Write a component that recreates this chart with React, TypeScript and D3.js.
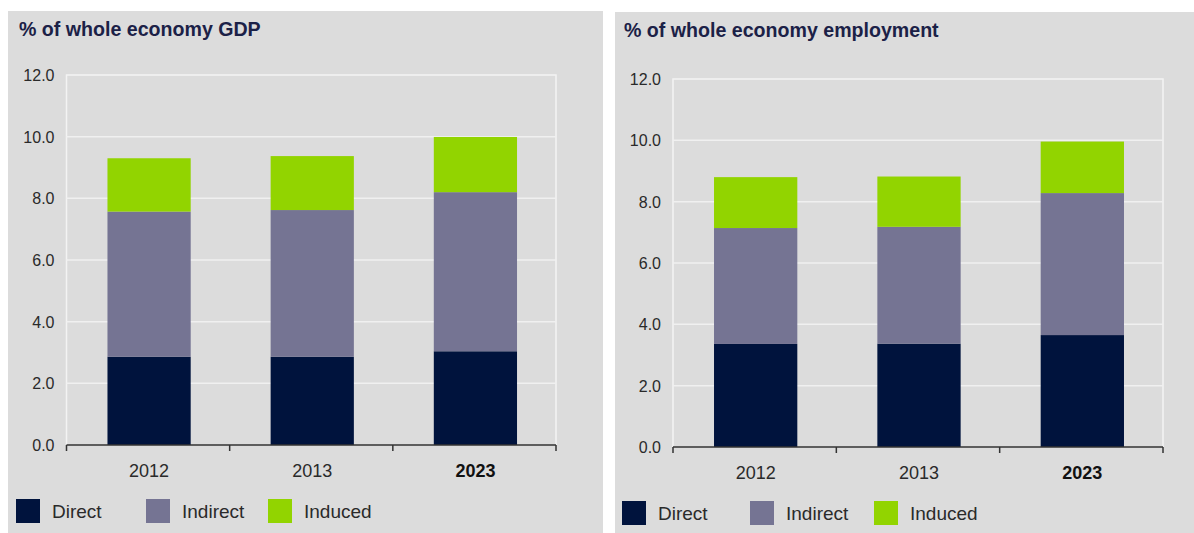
import React from "react";
import * as d3 from "d3";

const categories = ["2012", "2013", "2023"];
const seriesNames = ["Direct", "Indirect", "Induced"];
const seriesColors = ["#00133d", "#757493", "#92d400"];
const yTicks = [0, 2, 4, 6, 8, 10, 12];

const gdpDirect = [2.86, 2.86, 3.04];
const gdpIndirect = [4.71, 4.76, 5.16];
const gdpInduced = [1.73, 1.75, 1.79];

const empDirect = [3.36, 3.37, 3.65];
const empIndirect = [3.78, 3.81, 4.63];
const empInduced = [1.66, 1.64, 1.68];

const FONT = "'Liberation Sans', Arial, Helvetica, sans-serif";

type PanelProps = {
  title: string;
  direct: number[];
  indirect: number[];
  induced: number[];
  px: number; py: number; pw: number; ph: number;
  titleX: number;
  left: number; right: number; top: number; bottom: number;
  legendY: number;
  legendXs: number[];
};

function Panel(p: PanelProps) {
  const x = d3.scaleBand<string>().domain(categories).range([p.left, p.right]).paddingInner(0).paddingOuter(0);
  const y = d3.scaleLinear().domain([0, 12]).range([p.bottom, p.top]);
  const rows = categories.map((c, i) => ({ cat: c, Direct: p.direct[i], Indirect: p.indirect[i], Induced: p.induced[i] }));
  const stacked = d3.stack<any>().keys(seriesNames)(rows);
  const bw = x.bandwidth() * 0.51;
  const boundaries = [...categories.map((c) => x(c)!), p.right];
  return (
    <g>
      <rect x={p.px} y={p.py} width={p.pw} height={p.ph} fill="#dcdcdc" />
      <text x={p.titleX} y={p.py + 25} fontFamily={FONT} fontWeight="bold" fontSize={19.6} fill="#1b2147">{p.title}</text>
      {/* plot frame */}
      <path d={`M${p.left},${p.bottom}V${p.top}H${p.right}V${p.bottom}`} fill="none" stroke="#f3f3f3" strokeWidth={1.5} />
      {yTicks.map((t) => (
        <g key={t}>
          {t > 0 && t < 12 && <line x1={p.left} x2={p.right} y1={y(t)} y2={y(t)} stroke="#f0f0f0" strokeWidth={1.5} />}
          <text x={p.left - 12} y={y(t) + 6} textAnchor="end" fontFamily={FONT} fontSize={16} fill="#2a2a2a">{t.toFixed(1)}</text>
        </g>
      ))}
      {stacked.map((s, si) => (
        <g key={s.key} fill={seriesColors[si]}>
          {s.map((d, i) => (
            <rect key={i} x={x(categories[i])! + x.bandwidth() / 2 - bw / 2 + 1} y={y(d[1])} width={bw} height={y(d[0]) - y(d[1])} />
          ))}
        </g>
      ))}
      <line x1={p.left} x2={p.right} y1={p.bottom} y2={p.bottom} stroke="#333" strokeWidth={1.5} />
      {boundaries.map((b, i) => (
        <line key={i} x1={b} x2={b} y1={p.bottom} y2={p.bottom + 6} stroke="#333" strokeWidth={1.5} />
      ))}
      {categories.map((c, i) => (
        <text key={c} x={x(c)! + x.bandwidth() / 2 + 1} y={p.bottom + 32} textAnchor="middle" fontFamily={FONT} fontSize={18} fontWeight={i === 2 ? "bold" : "normal"} fill={i === 2 ? "#111" : "#2a2a2a"}>{c}</text>
      ))}
      {seriesNames.map((n, i) => (
        <g key={n}>
          <rect x={p.legendXs[i]} y={p.legendY} width={24} height={24} fill={seriesColors[i]} />
          <text x={p.legendXs[i] + 36} y={p.legendY + 19} fontFamily={FONT} fontSize={19} fill="#2a2a2a">{n}</text>
        </g>
      ))}
    </g>
  );
}

export default function App() {
  return (
    <svg width={1194} height={533} style={{ position: "absolute", left: 0, top: 0, background: "#ffffff" }}>
      <Panel title="% of whole economy GDP" direct={gdpDirect} indirect={gdpIndirect} induced={gdpInduced}
        px={8} py={11} pw={595} ph={522} titleX={19} left={66.5} right={556} top={75} bottom={445}
        legendY={499} legendXs={[16, 146, 268]} />
      <Panel title="% of whole economy employment" direct={empDirect} indirect={empIndirect} induced={empInduced}
        px={615} py={12} pw={579} ph={521} titleX={624} left={673} right={1163} top={79} bottom={447}
        legendY={501} legendXs={[622, 750, 874]} />
    </svg>
  );
}
